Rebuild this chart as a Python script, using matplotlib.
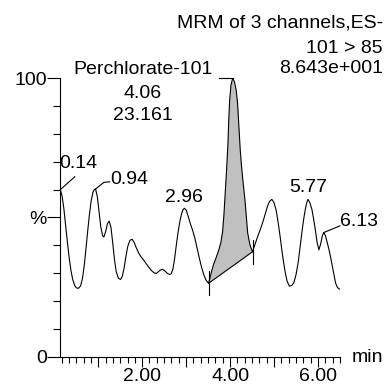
import matplotlib
matplotlib.use("Agg")
import matplotlib.pyplot as plt
from matplotlib.ticker import FixedLocator, NullFormatter, FixedFormatter

plt.rcParams["font.family"] = ["Liberation Sans", "DejaVu Sans"]
FS = 14

# Retention time (min) and relative intensity (%) of the 101 > 85 trace
rt = [0.14, 0.18, 0.22, 0.26, 0.30, 0.34, 0.38, 0.42, 0.46, 0.50, 0.55, 0.60,
      0.64, 0.68, 0.72, 0.76, 0.80, 0.84, 0.88, 0.91, 0.94, 0.98, 1.02, 1.06,
      1.10, 1.13, 1.17, 1.21, 1.25, 1.29, 1.33, 1.37, 1.41, 1.46, 1.51, 1.55,
      1.59, 1.63, 1.67, 1.72, 1.77, 1.82, 1.87, 1.92, 1.97, 2.03, 2.09, 2.15,
      2.21, 2.27, 2.32, 2.37, 2.42, 2.47, 2.52, 2.57, 2.62, 2.66, 2.70, 2.74,
      2.78, 2.82, 2.86, 2.90, 2.93, 2.96, 3.00, 3.05, 3.10, 3.15, 3.20, 3.25,
      3.30, 3.35, 3.40, 3.45, 3.51, 3.56, 3.62, 3.68, 3.74, 3.79, 3.83, 3.86,
      3.89, 3.92, 3.95, 3.97, 3.99, 4.02, 4.06, 4.10, 4.14, 4.17, 4.20, 4.23,
      4.26, 4.30, 4.34, 4.37, 4.40, 4.45, 4.51, 4.57, 4.63, 4.69, 4.75, 4.80,
      4.85, 4.90, 4.95, 5.00, 5.05, 5.10, 5.14, 5.18, 5.22, 5.26, 5.30, 5.35,
      5.40, 5.45, 5.50, 5.55, 5.60, 5.65, 5.69, 5.73, 5.77, 5.81, 5.86, 5.90,
      5.94, 5.98, 6.02, 6.06, 6.10, 6.13, 6.17, 6.21, 6.25, 6.29, 6.33, 6.37,
      6.40, 6.44, 6.47, 6.50]
intensity = [60.0, 57.5, 53.0, 47.0, 41.0, 35.5, 31.0, 27.8, 25.8, 24.8, 24.6, 25.5,
             28.0, 32.5, 38.5, 45.0, 51.0, 56.0, 59.0, 60.0, 60.2, 57.5, 52.0, 46.5,
             43.5, 43.0, 45.0, 47.8, 48.7, 46.5, 41.0, 35.0, 30.5, 28.2, 27.8, 29.0,
             32.0, 36.0, 39.5, 41.8, 42.2, 41.0, 39.0, 37.3, 36.0, 34.8, 33.5, 32.2,
             31.0, 30.2, 29.9, 30.6, 31.2, 31.4, 30.8, 30.0, 29.6, 29.8, 31.5, 35.5,
             40.5, 45.0, 48.8, 51.5, 52.8, 53.3, 52.7, 50.3, 47.6, 45.3, 42.5, 39.0,
             35.5, 32.2, 29.6, 27.6, 26.4, 29.5, 33.0, 35.5, 38.2, 41.0, 45.0, 51.0,
             59.0, 67.0, 76.0, 85.0, 92.0, 97.5, 100.0, 98.6, 95.5, 91.0, 83.0, 74.5,
             68.5, 62.0, 56.0, 50.0, 44.5, 40.3, 37.7, 40.5, 43.3, 45.8, 48.6, 51.3,
             54.0, 55.8, 56.5, 55.3, 52.5, 47.5, 43.0, 38.0, 33.6, 29.8, 27.0, 25.4,
             25.6, 26.6, 29.5, 34.0, 40.5, 46.7, 51.0, 54.5, 56.5, 55.5, 53.0, 49.5,
             45.5, 41.0, 38.4, 40.5, 43.5, 44.6, 43.5, 41.0, 38.5, 35.5, 32.2, 28.8,
             26.5, 25.0, 24.5, 24.3]

# Integrated peak limits (start / end retention times)
integ_start = 3.51
integ_end = 4.51

# Apex retention times that get a label
peak_rts = [0.14, 0.94, 2.96, 5.77, 6.13]
compound = "Perchlorate-101"
compound_rt = "4.06"
compound_area = "23.161"

title_lines = ["MRM of 3 channels,ES-", "101 > 85", "8.643e+001"]

x_major = [1, 2, 3, 4, 5, 6]
x_labels = ["", "2.00", "", "4.00", "", "6.00"]
x_minor = [k / 6 for k in range(1, 40) if k % 6 != 0]
y_major = [0, 50, 100]
y_labels = ["0", "%", "100"]
y_minor = [10, 20, 30, 40, 60, 70, 80, 90]

fig = plt.figure(figsize=(3.87, 3.91), dpi=100)
ax = fig.add_axes([0.1555, 0.0870, 0.7230, 0.7135])
ax.set_xlim(0.135, 6.5)
ax.set_ylim(0, 100)

ax.plot(rt, intensity, color="black", lw=0.8, solid_joinstyle="round")

# shaded integration area closed by the straight baseline
i0 = rt.index(integ_start)
i1 = rt.index(integ_end)
poly_x = rt[i0:i1 + 1]
poly_y = intensity[i0:i1 + 1]
ax.fill(poly_x, poly_y, facecolor="#c0c0c0", edgecolor="none", zorder=1)
ax.plot([integ_start, integ_end], [intensity[i0], intensity[i1]], color="black", lw=0.8)
for i in (i0, i1):
    ax.plot([rt[i], rt[i]], [intensity[i] - 4.3, intensity[i] + 4.3], color="black", lw=0.8)

for s in ("top", "right"):
    ax.spines[s].set_visible(False)
for s in ("left", "bottom"):
    ax.spines[s].set_linewidth(0.8)

ax.xaxis.set_major_locator(FixedLocator(x_major))
ax.xaxis.set_major_formatter(FixedFormatter(x_labels))
ax.xaxis.set_minor_locator(FixedLocator(x_minor))
ax.xaxis.set_minor_formatter(NullFormatter())
ax.yaxis.set_major_locator(FixedLocator(y_major))
ax.yaxis.set_major_formatter(FixedFormatter(y_labels))
ax.yaxis.set_minor_locator(FixedLocator(y_minor))
ax.tick_params(axis="x", which="major", direction="out", length=7.2, width=0.8,
               pad=0.5, labelsize=FS)
ax.tick_params(axis="x", which="minor", direction="out", length=4.3, width=0.8)
ax.tick_params(axis="y", which="major", direction="out", length=9.4, width=0.8,
               pad=0.3, labelsize=FS)
ax.tick_params(axis="y", which="minor", direction="out", length=4.8, width=0.8)

pk = dict(zip(rt, intensity))
lw = 0.8

# 0.14 label with leader
ax.plot([0.14, 0.467], [pk[0.14], 64.6], color="black", lw=lw, clip_on=False)
ax.text(0.125, 69.5, "0.14", fontsize=FS, ha="left", va="center")
# 0.94 label with leader
ax.plot([0.94, 1.13, 1.26], [pk[0.94], 62.6, 62.8], color="black", lw=lw)
ax.text(1.264, 63.6, "0.94", fontsize=FS, ha="left", va="center")
# 2.96 and 5.77 labels above their apexes
ax.text(2.96, pk[2.96] + 4.0, "2.96", fontsize=FS, ha="center", va="center")
ax.text(5.77, pk[5.77] + 4.4, "5.77", fontsize=FS, ha="center", va="center")
# 6.13 label with leader
ax.plot([6.13, 6.50], [pk[6.13], 47.0], color="black", lw=lw, clip_on=False)
ax.text(6.50, 48.4, "6.13", fontsize=FS, ha="left", va="center", clip_on=False)

# compound label joined to the main apex
ax.plot([3.75, 4.06], [100, 100], color="black", lw=lw, clip_on=False)
ax.text(2.02, 102.9, compound, fontsize=FS, ha="center", va="center", clip_on=False)
ax.text(2.02, 94.6, compound_rt, fontsize=FS, ha="center", va="center")
ax.text(2.02, 86.4, compound_area, fontsize=FS, ha="center", va="center")

ys = [0.941, 0.876, 0.824]
for txt, y in zip(title_lines, ys):
    fig.text(0.9897, y, txt, fontsize=FS, ha="right", va="center")
fig.text(0.9096, 0.0844, "min", fontsize=FS, ha="left", va="center")

fig.savefig("out.png", dpi=100)
